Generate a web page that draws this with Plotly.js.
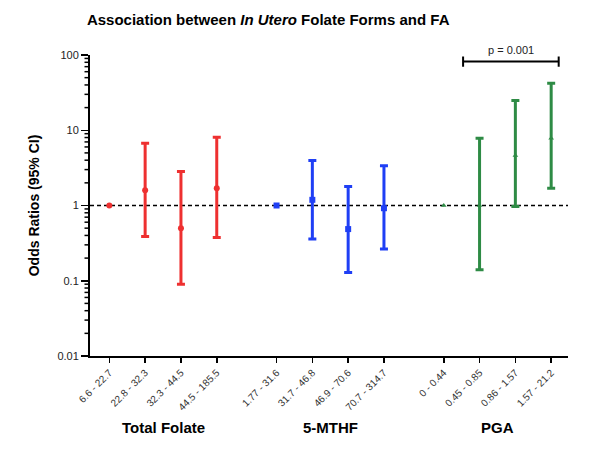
<!DOCTYPE html>
<html>
<head>
<meta charset="utf-8">
<script src="https://cdn.plot.ly/plotly-3.0.1.min.js"></script>
<style>
  html, body { margin: 0; padding: 0; background: #fff; }
  #chart { width: 600px; height: 455px; }
</style>
</head>
<body>
<div id="chart"></div>
<script>
// Folate quartile ranges (tick labels) per folate form
const groupNames = ["Total Folate", "5-MTHF", "PGA"];
const totalFolateLabels = ["6.6 - 22.7", "22.8 - 32.3", "32.3 - 44.5", "44.5 - 185.5"];
const mthfLabels = ["1.77 - 31.6", "31.7 - 46.8", "46.9 - 70.6", "70.7 - 314.7"];
const pgaLabels = ["0 - 0.44", "0.45 - 0.85", "0.86 - 1.57", "1.57 - 21.2"];

// Odds ratios with 95% CI (first quartile is the reference, no interval)
const totalFolateOR = [1.0, 1.60, 0.50, 1.70];
const totalFolateLo = [null, 0.388, 0.090, 0.376];
const totalFolateHi = [null, 6.74, 2.83, 8.1];

const mthfOR = [1.0, 1.19, 0.486, 0.92];
const mthfLo = [null, 0.358, 0.129, 0.264];
const mthfHi = [null, 3.96, 1.79, 3.37];

const pgaOR = [1.0, 1.0, 4.61, 7.85];
const pgaLo = [null, 0.14, 0.97, 1.70];
const pgaHi = [null, 7.85, 24.8, 42.2];

const referenceOR = 1;
const pValueText = "p = 0.001";

// Layout helpers
const groupGap = 0.67;
const xRange = [-0.54, 12.81];
const yLogRange = [-2, 2];
const font = "Liberation Sans, Arial, Helvetica, sans-serif";

function positions(gi, n) {
  const out = [];
  for (let i = 0; i < n; i++) out.push(gi * (4 + groupGap) + i);
  return out;
}

// minor log ticks 2..9 within each decade
const minorTicks = [];
for (let e = yLogRange[0]; e < yLogRange[1]; e++) {
  for (let m = 2; m <= 9; m++) minorTicks.push(m * Math.pow(10, e));
}

function series(gi, or, lo, hi, labels, color, symbol, size) {
  // NaN leaves the reference category without an error bar
  const plus = or.map((v, i) => hi[i] == null ? NaN : hi[i] - v);
  const minus = or.map((v, i) => lo[i] == null ? NaN : v - lo[i]);
  return {
    type: "scatter",
    mode: "markers",
    x: positions(gi, or.length),
    y: or,
    text: labels,
    marker: { color: color, symbol: symbol, size: size },
    error_y: {
      type: "data", symmetric: false,
      array: plus, arrayminus: minus,
      color: color, thickness: 3, width: 4
    },
    showlegend: false,
    hoverinfo: "x+y+text"
  };
}

const traces = [
  // dashed reference line at OR = 1
  {
    type: "scatter", mode: "lines",
    x: xRange, y: [referenceOR, referenceOR],
    line: { color: "#000", width: 1.6, dash: "4px,3px" },
    hoverinfo: "skip", showlegend: false
  },
  series(0, totalFolateOR, totalFolateLo, totalFolateHi, totalFolateLabels, "#ee3030", "circle", 6),
  series(1, mthfOR, mthfLo, mthfHi, mthfLabels, "#1f3ff5", "square", 6),
  series(2, pgaOR, pgaLo, pgaHi, pgaLabels, "#2e8b45", "triangle-up", 5)
];

const allLabels = totalFolateLabels.concat(mthfLabels, pgaLabels);
const allPos = positions(0, 4).concat(positions(1, 4), positions(2, 4));

// PGA trend bracket
const pgaPos = positions(2, 4);
const bracketX = [pgaPos[0] + 0.54, pgaPos[3] + 0.21];
const bracketY = 0.978;
const capHalf = 0.017;

// short minor ticks left of the log axis, sized in pixels from the plot's left edge
const minorTickShapes = minorTicks.map(v => ({
  type: "line",
  xref: "paper", yref: "y",
  xsizemode: "pixel", xanchor: 0,
  x0: -5.5, x1: -1,
  y0: v, y1: v,
  line: { color: "#000", width: 1.5 }
}));

const groupAnnotations = groupNames.map((name, gi) => {
  const p = positions(gi, 4);
  return {
    text: "<b>" + name + "</b>",
    xref: "x", yref: "paper",
    x: (p[0] + p[3]) / 2, y: -0.272,
    showarrow: false,
    font: { family: font, size: 15, color: "#000" }
  };
});

const layout = {
  width: 600, height: 455,
  margin: { l: 90, r: 32, t: 55, b: 99 },
  paper_bgcolor: "#fff",
  plot_bgcolor: "#fff",
  font: { family: font, color: "#000" },
  title: {
    text: "<b>Association between <i>In Utero</i> Folate Forms and FA</b>",
    x: 0.447, xanchor: "center",
    y: 0.956, yanchor: "middle",
    font: { family: font, size: 15, color: "#000" }
  },
  xaxis: {
    range: xRange,
    tickvals: allPos,
    ticktext: allLabels,
    tickangle: -45,
    tickfont: { family: font, size: 10, color: "#333" },
    ticks: "outside", ticklen: 5, tickwidth: 1.5, tickcolor: "#000",
    showline: true, linecolor: "#000", linewidth: 2,
    showgrid: false, zeroline: false, fixedrange: true
  },
  yaxis: {
    type: "log",
    range: yLogRange,
    dtick: 1,
    tickfont: { family: font, size: 11, color: "#222" },
    ticks: "outside", ticklen: 7, tickwidth: 1.5, tickcolor: "#000",
    showline: true, linecolor: "#000", linewidth: 2,
    showgrid: false, zeroline: false, fixedrange: true,
    title: {
      text: "<b>Odds Ratios (95% CI)</b>",
      font: { family: font, size: 14, color: "#000" },
      standoff: 14
    }
  },
  shapes: minorTickShapes.concat([
    { type: "line", xref: "x", yref: "paper", x0: bracketX[0], x1: bracketX[1], y0: bracketY, y1: bracketY, line: { color: "#000", width: 2 } },
    { type: "line", xref: "x", yref: "paper", x0: bracketX[0], x1: bracketX[0], y0: bracketY - capHalf, y1: bracketY + capHalf, line: { color: "#000", width: 2 } },
    { type: "line", xref: "x", yref: "paper", x0: bracketX[1], x1: bracketX[1], y0: bracketY - capHalf, y1: bracketY + capHalf, line: { color: "#000", width: 2 } }
  ]),
  annotations: groupAnnotations.concat([{
    text: pValueText,
    xref: "x", yref: "paper",
    x: (bracketX[0] + bracketX[1]) / 2, y: 1.017,
    yanchor: "middle",
    showarrow: false,
    font: { family: font, size: 11, color: "#222" }
  }])
};

Plotly.newPlot("chart", traces, layout, { displayModeBar: false, staticPlot: true });
</script>
</body>
</html>
